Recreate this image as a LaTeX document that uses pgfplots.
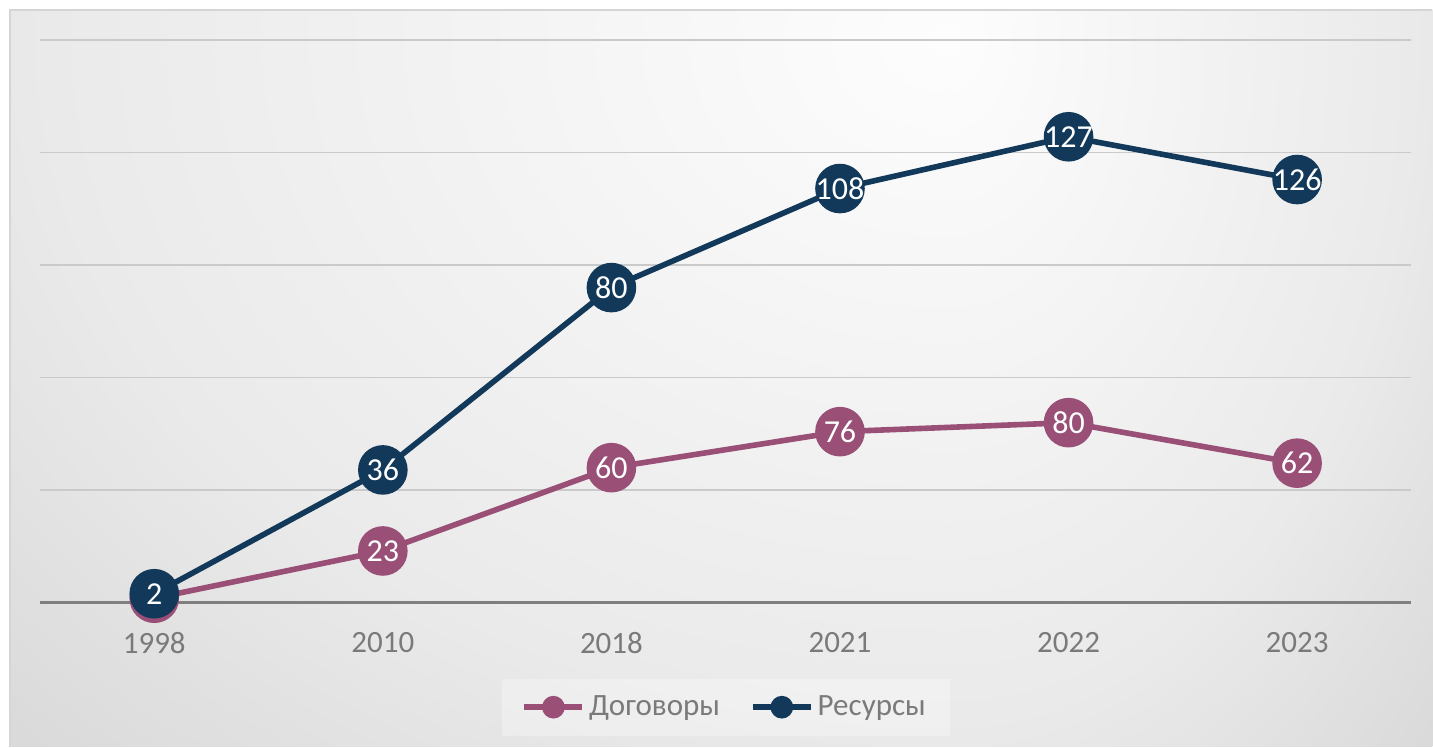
\documentclass[border=0pt]{standalone}
\usepackage{pgfplots}
\pgfplotsset{compat=1.18}
\usepackage{pgfplotstable}
\usepackage{fontspec}
\setmainfont{Carlito}
\definecolor{pinkc}{HTML}{994F76}
\definecolor{navyc}{HTML}{12395A}
\definecolor{tickc}{HTML}{7A7A7A}
\definecolor{gridc}{HTML}{CACACA}
\definecolor{zeroc}{HTML}{7F7F7F}
\definecolor{bgin}{HTML}{FDFDFD}
\definecolor{bgmid}{HTML}{EAEAEA}
\definecolor{bgout}{HTML}{C4C4C4}
\definecolor{bgcorner}{HTML}{BEBEBE}
\pgfdeclareradialshading{bgshade}{\pgfpoint{0bp}{0bp}}{color(0bp)=(bgin); color(24bp)=(bgmid); color(50bp)=(bgout); color(72bp)=(bgcorner)}

\pgfplotstableread{
x y
0 2
1 23
2 60
3 76
4 80
5 62
}\dogovory
\pgfplotstableread{
x y
0 2
1 36
2 80
3 108
4 127
5 126
}\resursy

\begin{document}
\begin{tikzpicture}
\path (0,0) rectangle (716.5pt,373.5pt);
% background
\begin{scope}
\clip (5pt,0pt) rectangle (716.5pt,368.5pt);
\fill[bgcorner] (5pt,0pt) rectangle (716.5pt,368.5pt);
\begin{scope}
\clip (0pt,0pt) rectangle (475pt,373.5pt);
\shade[shading=bgshade] (5pt,0pt) rectangle (945pt,707pt);
\end{scope}
\begin{scope}
\clip (475pt,0pt) rectangle (716.5pt,373.5pt);
\shade[shading=bgshade] (233.5pt,0pt) rectangle (716.5pt,707pt);
\end{scope}
\end{scope}
\draw[gridc!80!white, line width=0.6pt] (5pt,0pt) -- (5pt,368.5pt) -- (716.5pt,368.5pt);

\begin{axis}[
  at={(20pt,72pt)}, anchor=south west,
  scale only axis, width=686pt, height=281.5pt,
  xmin=-0.5, xmax=5.5, ymin=0, ymax=250,
  clip=false,
  stack plots=y,
  reverse stacked plots=false,
  axis line style={draw=none},
  xtick={0,...,5},
  xticklabels={1998,2010,2018,2021,2022,2023},
  ytick={50,100,150,200,250},
  yticklabels={},
  ymajorgrids,
  grid style={gridc, line width=0.75pt},
  extra y ticks={0},
  extra y tick labels={},
  extra y tick style={grid style={zeroc, line width=1.5pt}},
  major tick length=0pt,
  tick style={draw=none},
  xticklabel style={text=tickc, font=\fontsize{15.5}{18}\selectfont, yshift=-11.5pt},
  legend columns=2,
  legend style={at={(0.5,-0.1856)}, anchor=center, draw=none, fill=white, fill opacity=0.3, text opacity=1,
    font=\fontsize{15.5}{18}\selectfont, text=tickc, inner xsep=10pt, inner ysep=6.5pt,
    /tikz/every even column/.append style={column sep=13pt}},
  legend image code/.code={\draw[#1, line width=2.8pt, draw opacity=1] (0pt,0pt) -- (29pt,0pt); \fill[#1, fill opacity=1] (14.5pt,0pt) circle (4.25pt);},
  point meta=explicit,
  /pgf/number format/assume math mode=true,
  nodes near coords={\pgfmathprintnumber{\pgfplotspointmeta}},
  every node near coord/.append style={anchor=center, text=white, inner sep=0pt, font=\fontsize{16}{16}\selectfont},
]
\addplot[pinkc, line width=2.8pt, mark=*, mark size=11pt, mark options={fill=pinkc, draw=none}] table[x=x, y=y, meta=y] {\dogovory};
\addlegendentry{Договоры}
\addplot[navyc, line width=2.8pt, mark=*, mark size=11pt, mark options={fill=navyc, draw=none}] table[x=x, y=y, meta=y] {\resursy};
\addlegendentry{Ресурсы}
\end{axis}
\end{tikzpicture}
\end{document}
